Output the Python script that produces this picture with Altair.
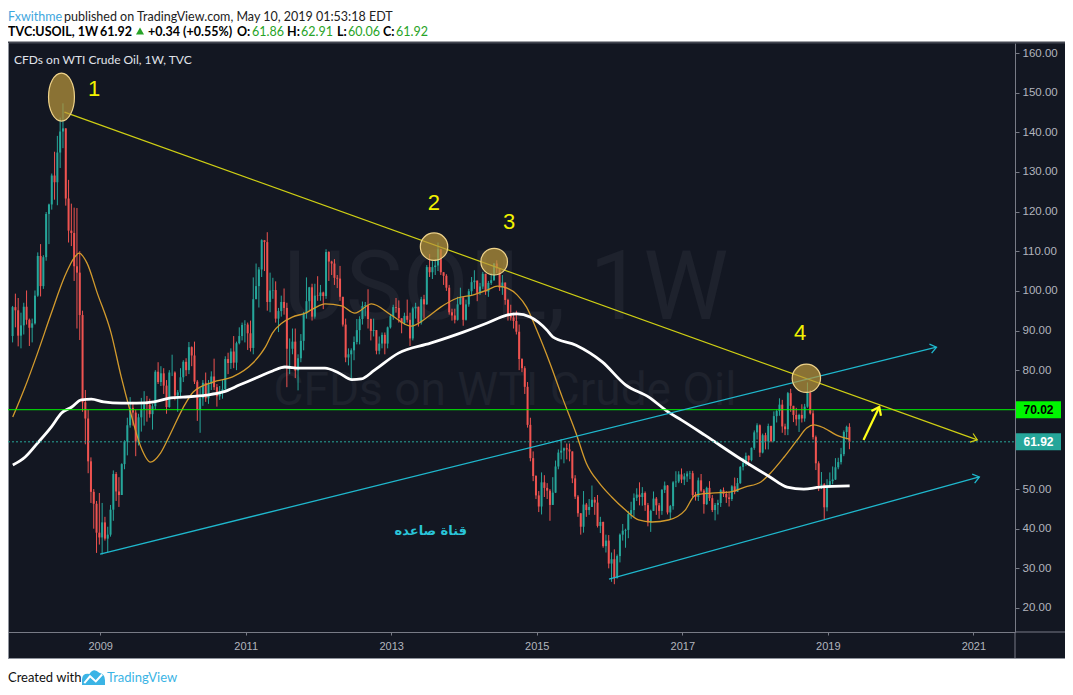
import math
import altair as alt
import pandas as pd

# ---------------- data ----------------
FIRST_OPEN = 88.6
START_BIN = {2007: 21}          # 26 two-week bins per year
# (high, low, close) per two-week candle
C2007 = [(96.2, 87.0, 95.9), (99.3, 90.8, 95.1), (98.2, 86.0, 88.7), (94.5, 85.5, 91.3), (97.0, 89.0, 96.0)]
C2008 = [(100.1, 91.5, 92.7), (93.0, 86.1, 90.7), (93.0, 87.0, 91.8), (100.1, 91.5, 98.8), (109.7, 98.5, 108.8),
         (111.8, 98.6, 101.2), (109.0, 100.5, 108.5), (119.9, 107.6, 119.4), (122.0, 111.8, 121.8), (129.6, 120.5, 129.1),
         (135.1, 123.0, 127.4), (139.1, 121.6, 134.9), (143.7, 131.0, 140.2), (147.3, 136.0, 141.0), (138.5, 121.5, 123.3),
         (128.0, 112.2, 115.2), (122.0, 111.3, 114.6), (121.0, 102.5, 106.2), (120.9, 90.5, 104.6), (110.0, 87.6, 93.9),
         (95.0, 69.5, 71.9), (75.0, 61.3, 67.8), (70.0, 54.0, 57.0), (58.0, 46.5, 49.3), (50.0, 40.0, 46.3), (47.0, 33.9, 39.0)]
C2009 = [(49.0, 36.0, 37.8), (46.5, 33.5, 41.6), (43.0, 37.0, 37.5), (40.5, 34.0, 38.5), (46.0, 38.0, 44.8),
         (54.7, 42.0, 53.8), (54.3, 47.0, 49.4), (53.0, 45.5, 48.5), (56.5, 48.5, 56.3), (62.3, 55.0, 62.0),
         (68.0, 58.5, 66.1), (73.2, 65.5, 70.5), (72.0, 66.0, 69.3), (70.0, 58.3, 62.0), (69.0, 61.0, 68.1),
         (73.0, 64.5, 70.2), (74.7, 66.0, 71.4), (73.5, 67.0, 71.3), (72.8, 68.0, 68.9), (71.5, 65.0, 70.9),
         (80.0, 70.0, 79.6), (82.0, 76.5, 77.0), (81.0, 76.0, 79.2), (80.5, 74.0, 76.1), (77.5, 69.0, 70.7), (80.0, 70.5, 79.4)]
C2010 = [(83.9, 78.5, 79.4), (79.7, 72.4, 73.6), (75.0, 69.5, 74.4), (80.5, 73.0, 78.2), (82.5, 77.0, 82.1),
         (83.0, 78.5, 80.0), (87.1, 79.0, 85.8), (86.0, 81.0, 83.7), (87.2, 76.5, 77.1), (77.5, 67.2, 70.0),
         (75.5, 64.2, 72.9), (77.5, 71.0, 76.8), (79.4, 72.0, 72.9), (77.5, 71.5, 76.5), (79.7, 75.0, 78.4),
         (82.9, 75.0, 75.7), (76.5, 70.8, 73.4), (76.0, 72.5, 74.7), (77.5, 72.8, 75.2), (83.5, 75.0, 82.8),
         (84.4, 79.0, 81.8), (85.5, 80.3, 84.7), (88.6, 80.5, 81.9), (87.2, 80.0, 86.8), (90.8, 86.5, 88.6), (92.0, 87.5, 91.4)]
C2011 = [(92.6, 87.0, 91.5), (92.0, 85.1, 89.3), (92.5, 84.7, 85.6), (103.4, 84.0, 97.9), (106.9, 98.0, 101.2),
         (106.0, 95.8, 105.4), (113.0, 103.5, 112.8), (112.8, 105.0, 112.3), (114.8, 95.0, 97.2), (104.6, 94.6, 100.1),
         (103.3, 98.0, 100.2), (102.4, 92.0, 93.0), (95.7, 89.6, 94.9), (98.8, 93.5, 97.2), (100.6, 94.0, 95.7),
         (97.0, 75.7, 85.4), (88.0, 79.0, 85.4), (90.5, 84.0, 87.2), (90.5, 78.0, 79.9), (84.0, 74.9, 83.0),
         (89.1, 82.0, 87.4), (94.7, 85.0, 94.3), (103.4, 93.0, 97.4), (101.0, 95.0, 100.9), (101.8, 92.5, 93.5), (101.8, 93.0, 98.8)]
C2012 = [(103.7, 97.5, 98.7), (101.5, 97.5, 99.6), (99.8, 95.4, 98.7), (110.5, 98.0, 109.8), (110.0, 102.5, 107.4),
         (107.6, 104.0, 106.9), (108.0, 101.5, 103.3), (104.0, 100.7, 103.1), (106.3, 97.5, 98.5), (98.5, 91.0, 91.5),
         (93.0, 82.0, 83.2), (85.5, 81.2, 84.0), (85.5, 77.3, 85.0), (88.5, 82.5, 87.1), (92.9, 86.5, 90.1),
         (93.6, 86.5, 92.9), (97.3, 91.5, 96.2), (97.2, 93.6, 96.4), (100.4, 90.5, 92.9), (93.0, 87.5, 89.9),
         (93.0, 88.5, 90.1), (89.0, 84.0, 84.9), (88.5, 84.0, 86.7), (89.5, 85.5, 88.9), (89.5, 84.0, 86.7), (91.0, 85.5, 90.8)]
C2013 = [(94.0, 90.5, 93.6), (96.5, 92.7, 95.9), (98.2, 94.5, 95.7), (97.6, 92.0, 93.1), (93.0, 89.3, 91.9),
         (94.5, 91.5, 93.7), (97.8, 92.0, 92.7), (94.5, 86.1, 88.0), (96.0, 87.5, 95.6), (97.0, 93.0, 96.0),
         (95.5, 91.0, 92.0), (98.5, 91.5, 97.9), (99.0, 93.0, 96.6), (106.5, 96.5, 106.0), (109.3, 103.5, 104.7),
         (107.5, 103.0, 106.0), (108.0, 104.0, 106.4), (112.2, 105.0, 110.5), (110.5, 104.0, 104.7), (104.5, 101.5, 103.8),
         (104.2, 100.0, 100.8), (101.5, 94.0, 94.6), (95.5, 92.5, 93.8), (95.5, 91.8, 92.7), (98.5, 92.5, 96.6), (100.8, 96.5, 98.4)]
C2014 = [(95.5, 91.2, 92.7), (97.8, 92.5, 96.6), (100.5, 96.0, 99.9), (103.5, 99.0, 102.2), (105.2, 100.5, 102.6),
         (102.5, 97.4, 99.5), (102.0, 99.0, 101.1), (104.8, 100.5, 104.3), (102.5, 99.0, 99.8), (102.5, 98.5, 102.0),
         (104.5, 101.5, 102.7), (107.0, 102.5, 106.9), (107.7, 104.5, 105.7), (105.0, 100.0, 100.8), (104.0, 99.0, 102.1),
         (102.0, 96.5, 97.7), (98.0, 92.5, 93.7), (96.5, 92.5, 93.3), (94.5, 90.5, 92.4), (95.0, 89.0, 89.7),
         (91.5, 80.0, 82.8), (83.0, 79.5, 80.5), (81.0, 74.0, 75.8), (77.0, 65.5, 66.2), (68.0, 57.0, 57.8), (59.5, 52.0, 53.3)]
C2015 = [(53.5, 47.5, 48.4), (49.5, 44.2, 45.6), (54.2, 43.6, 51.7), (53.5, 48.0, 50.3), (51.5, 47.5, 49.6),
         (50.0, 42.0, 46.0), (53.0, 46.5, 49.1), (57.2, 49.0, 55.7), (60.0, 55.0, 59.2), (62.6, 57.5, 59.7),
         (60.5, 56.5, 60.3), (61.5, 57.5, 60.0), (61.5, 57.0, 59.5), (57.5, 51.5, 52.7), (53.5, 47.5, 48.1),
         (48.5, 43.0, 43.9), (43.5, 38.5, 40.5), (49.5, 39.0, 46.1), (46.5, 43.0, 44.7), (47.5, 43.5, 45.5),
         (50.9, 45.5, 47.3), (48.0, 43.5, 46.6), (48.5, 40.3, 40.7), (43.0, 38.9, 41.7), (41.8, 35.2, 35.6), (38.5, 34.0, 37.0)]
C2016 = [(38.4, 30.0, 31.2), (34.0, 26.6, 32.3), (34.8, 26.0, 27.5), (33.5, 28.0, 33.1), (38.8, 31.5, 38.5),
         (41.2, 37.0, 39.5), (40.0, 35.2, 39.7), (44.5, 37.6, 43.7), (46.8, 42.5, 44.7), (48.9, 43.0, 47.8),
         (50.2, 47.0, 48.6), (51.7, 45.9, 48.0), (50.5, 45.8, 49.0), (49.4, 44.5, 45.95), (46.5, 40.6, 41.6),
         (44.8, 39.2, 44.5), (49.4, 45.5, 47.6), (48.0, 43.5, 45.9), (46.5, 42.5, 44.5), (50.0, 43.5, 49.8),
         (51.9, 49.0, 50.9), (51.0, 43.6, 44.1), (46.0, 42.2, 45.7), (52.0, 44.8, 51.7), (54.5, 50.5, 51.9), (54.5, 51.5, 53.7)]
C2017 = [(55.2, 51.5, 52.4), (54.0, 51.0, 53.2), (54.5, 51.8, 53.9), (54.6, 52.5, 54.0), (54.6, 48.0, 48.5),
         (49.3, 47.1, 48.0), (52.9, 47.0, 52.2), (53.8, 49.2, 49.6), (50.0, 43.8, 46.2), (50.6, 46.0, 50.3),
         (52.0, 47.0, 47.7), (48.5, 44.2, 44.7), (46.5, 42.1, 46.0), (47.3, 43.6, 46.5), (50.0, 45.5, 49.7),
         (50.4, 48.0, 48.8), (49.5, 46.5, 47.9), (49.3, 45.6, 47.5), (51.0, 47.0, 50.7), (52.9, 48.7, 49.3),
         (52.8, 49.5, 51.5), (55.8, 51.3, 55.6), (57.9, 54.7, 56.6), (59.2, 55.8, 58.4), (58.5, 55.8, 57.3), (60.5, 57.0, 60.4)]
C2018 = [(64.8, 59.9, 64.3), (66.6, 62.5, 66.1), (66.3, 58.1, 59.2), (64.0, 59.0, 63.6), (64.2, 60.0, 62.0),
         (66.5, 60.0, 65.9), (66.0, 61.8, 62.1), (69.6, 62.0, 68.4), (70.0, 66.8, 69.7), (72.9, 68.5, 71.3),
         (72.5, 64.2, 65.8), (66.5, 63.6, 65.1), (74.5, 63.6, 74.2), (75.3, 69.5, 71.0), (71.0, 66.9, 68.7),
         (70.5, 66.0, 67.6), (69.0, 64.4, 68.7), (71.4, 66.8, 67.8), (71.5, 67.0, 70.8), (76.9, 70.5, 74.3),
         (75.0, 68.8, 69.1), (69.9, 62.5, 63.1), (63.5, 54.8, 56.5), (57.0, 49.5, 50.9), (54.3, 50.0, 51.2), (51.5, 42.4, 45.4)]
C2019 = [(52.5, 44.4, 50.5), (54.2, 50.4, 52.0), (55.7, 51.2, 52.4), (57.8, 52.3, 55.5), (57.9, 55.0, 56.8),
         (60.4, 56.2, 58.8), (64.8, 58.3, 64.4), (66.0, 62.5, 65.7), (66.6, 60.06, 61.92)]
CANDLE_YEARS = [(2007, C2007), (2008, C2008), (2009, C2009), (2010, C2010), (2011, C2011), (2012, C2012),
                (2013, C2013), (2014, C2014), (2015, C2015), (2016, C2016), (2017, C2017), (2018, C2018),
                (2019, C2019)]

# moving averages (year, value)
MA200_T = [2007.80, 2007.97, 2008.14, 2008.33, 2008.47, 2008.61, 2008.74, 2008.88, 2009.05, 2009.29, 2009.50,
           2009.74, 2009.97, 2010.14, 2010.46, 2010.69, 2010.92, 2011.14, 2011.37, 2011.54, 2011.74, 2011.91,
           2012.09, 2012.28, 2012.46, 2012.59, 2012.77, 2013.10, 2013.54, 2013.99, 2014.32, 2014.59, 2014.73,
           2014.91, 2015.14, 2015.22, 2015.54, 2015.90, 2016.22, 2016.54, 2016.81, 2016.99, 2017.31, 2017.76,
           2018.21, 2018.44, 2018.67, 2018.89, 2019.30]
MA200_V = [56.1, 58.1, 61.6, 65.7, 69.2, 70.7, 72.5, 72.7, 72.0, 71.7, 71.7, 72.0, 73.0, 73.2, 73.7, 74.5, 76.3,
           78.0, 79.8, 80.8, 80.5, 80.5, 80.5, 79.3, 77.6, 77.8, 80.0, 84.3, 86.8, 89.6, 91.9, 93.9, 94.2, 93.4,
           90.1, 88.4, 86.3, 82.1, 76.3, 73.2, 69.4, 67.4, 63.6, 58.1, 53.0, 50.5, 50.0, 50.5, 50.8]
MA50_T = [2007.80, 2007.97, 2008.14, 2008.33, 2008.51, 2008.65, 2008.71, 2008.82, 2008.96, 2009.15, 2009.29,
          2009.42, 2009.56, 2009.69, 2009.83, 2009.97, 2010.14, 2010.28, 2010.55, 2010.82, 2011.10, 2011.27,
          2011.37, 2011.50, 2011.64, 2011.82, 2011.95, 2012.09, 2012.32, 2012.50, 2012.73, 2013.00, 2013.27,
          2013.50, 2013.68, 2013.91, 2014.13, 2014.32, 2014.46, 2014.54, 2014.73, 2014.86, 2015.00, 2015.18,
          2015.35, 2015.54, 2015.68, 2015.86, 2016.03, 2016.22, 2016.40, 2016.58, 2016.81, 2017.04, 2017.18,
          2017.40, 2017.67, 2017.86, 2018.08, 2018.21, 2018.40, 2018.58, 2018.71, 2018.81, 2018.95, 2019.12, 2019.30]
MA50_V = [68.2, 75.8, 84.3, 94.4, 103.5, 108.5, 109.5, 107.0, 99.5, 89.4, 78.3, 69.2, 60.6, 56.8, 59.1, 64.1, 70.5,
          74.5, 77.0, 78.3, 81.8, 85.8, 89.4, 91.9, 93.4, 94.4, 95.7, 96.7, 96.2, 94.4, 96.7, 93.9, 91.1, 93.4, 95.9,
          98.2, 99.0, 100.2, 101.2, 101.0, 99.0, 95.9, 90.1, 81.8, 73.2, 64.1, 56.6, 51.5, 48.0, 44.7, 42.2, 41.7,
          42.2, 44.7, 48.5, 49.0, 49.3, 50.5, 51.8, 54.0, 58.1, 62.4, 65.4, 66.2, 65.4, 63.6, 62.6]

# drawings
YELLOW_T, YELLOW_V = [2008.51, 2021.054], [145.1, 62.4]
CYAN_UP_T, CYAN_UP_V = [2009.0, 2020.493], [33.6, 85.8]
CYAN_LO_T, CYAN_LO_V = [2015.993, 2021.082], [27.3, 53.05]
ARROW_T, ARROW_V = [2019.49, 2019.707], [62.4, 70.7]
CIRCLE_T = [2013.589, 2014.415, 2018.705]
CIRCLE_V = [111.15, 107.36, 77.95]
CIRCLE_R = [15.5, 15.0, 16.0]
ELLIPSE_T, ELLIPSE_V = 2008.469, 148.9
NUM_LABELS = ["1", "2", "3", "4"]
NUM_T = [2008.918, 2013.585, 2014.619, 2018.619]
NUM_V = [150.9, 122.2, 117.4, 89.4]
LEVEL = 70.02
LAST = 61.92
Y_TICKS = [20, 30, 40, 50, 80, 90, 100, 110, 120, 130, 140, 150, 160]
X_TICKS = [2009, 2011, 2013, 2015, 2017, 2019, 2021]

# ---------------- geometry ----------------
W, H = 1007, 589
X0, X1 = 2007.8027, 2021.5034
Y0, Y1 = 13.945, 162.53
PX = W / (X1 - X0)
PY = H / (Y1 - Y0)

rows = []
prev = FIRST_OPEN
for yr, lst in CANDLE_YEARS:
    b0 = START_BIN.get(yr, 0)
    for k, (h, l, c) in enumerate(lst):
        o = prev
        rows.append({"t": yr + (b0 + k + 0.5) / 26 - 0.03, "o": o, "c": c,
                     "h": max(h, o, c), "l": min(l, o, c), "dir": "up" if c >= o else "down"})
        prev = c
candles = pd.DataFrame(rows)

AXC = "#787b86"
LBL = "#b2b5be"
UPC, DNC = "#26a69a", "#ef5350"
XS = alt.Scale(domain=[X0, X1], nice=False, zero=False)
YS = alt.Scale(domain=[Y0, Y1], nice=False, zero=False)
XAX = alt.Axis(values=X_TICKS, format="d", title=None, grid=False, labelColor=LBL,
               labelFontSize=11, labelFont="Liberation Sans", domainColor=AXC, tickColor=AXC,
               tickSize=3, labelPadding=5, labelFlush=False)
YAX = alt.Axis(orient="right", values=Y_TICKS, format=".2f", title=None, grid=False,
               labelColor=LBL, labelFontSize=11.5, labelFont="Liberation Sans",
               domainColor=AXC, tickColor=AXC, tickSize=4, labelPadding=3)


def X(f):
    return alt.X(f, type="quantitative", scale=XS, axis=XAX)


def Y(f):
    return alt.Y(f, type="quantitative", scale=YS, axis=YAX)


ONE = pd.DataFrame({"a": [0]})


def ptext(txt, x, y, **kw):
    return alt.Chart(ONE).mark_text(text=txt, **kw).encode(x=alt.value(x), y=alt.value(y))


def prule(color, x, y, x2=None, y2=None, w=1, **kw):
    enc = {"x": alt.value(x), "y": alt.value(y)}
    if x2 is not None:
        enc["x2"] = alt.value(x2)
    if y2 is not None:
        enc["y2"] = alt.value(y2)
    return alt.Chart(ONE).mark_rule(color=color, strokeWidth=w, **kw).encode(**enc)


layers = []

# candles (they carry the axes)
col = alt.Color("dir:N", scale=alt.Scale(domain=["up", "down"], range=[UPC, DNC]), legend=None)
wick = alt.Chart(candles).mark_rule(strokeWidth=1).encode(x=X("t"), y=Y("l"), y2="h", color=col)
body = alt.Chart(candles).mark_bar(size=2).encode(x=X("t"), y=Y("o"), y2="c", color=col)

# white header / footer strips around the dark panel
layers.append(alt.Chart(ONE).mark_rect(color="white").encode(
    x=alt.value(0), x2=alt.value(1057), y=alt.value(-35), y2=alt.value(-1)))
layers.append(alt.Chart(ONE).mark_rect(color="white").encode(
    x=alt.value(0), x2=alt.value(1057), y=alt.value(616), y2=alt.value(644)))
layers.append(prule("#434651", 0, -0.5, x2=1057, w=2))
layers.append(prule("#8f939c", 0, 615.5, x2=1057))
layers.append(prule("#8f939c", 0.5, 0, y2=616))
layers.append(prule(AXC, W, H, y2=615))
layers.append(prule(AXC, W, H, x2=1057))

# watermark
layers.append(ptext("USOIL, 1W", 498, 247, font="Roboto", fontSize=96, color="#1e222d",
                    align="center", baseline="middle"))
layers.append(ptext("CFDs on WTI Crude Oil", 497, 348, font="Roboto", fontSize=46, color="#1e222d",
                    align="center", baseline="middle"))

layers += [wick, body]

# moving averages
ma200 = pd.DataFrame({"t": MA200_T, "v": MA200_V})
ma50 = pd.DataFrame({"t": MA50_T, "v": MA50_V})
layers.append(alt.Chart(ma50).mark_line(color="#d39b2d", strokeWidth=1.3, interpolate="monotone").encode(
    x=X("t"), y=Y("v")))
layers.append(alt.Chart(ma200).mark_line(color="#ffffff", strokeWidth=2.8, interpolate="monotone").encode(
    x=X("t"), y=Y("v")))

# horizontal levels
layers.append(alt.Chart(pd.DataFrame({"v": [LEVEL]})).mark_rule(color="#00f500", strokeWidth=1).encode(
    y=Y("v"), x=alt.value(0), x2=alt.value(W)))
layers.append(alt.Chart(pd.DataFrame({"v": [LAST]})).mark_rule(color=UPC, strokeWidth=1, strokeDash=[2, 2]).encode(
    y=Y("v"), x=alt.value(0), x2=alt.value(W)))

# trend lines
LINES = [(YELLOW_T, YELLOW_V, "#cfcf14", 1.2, 150), (CYAN_UP_T, CYAN_UP_V, "#1fb8cd", 1.3, 150),
         (CYAN_LO_T, CYAN_LO_V, "#1fb8cd", 1.3, 150), (ARROW_T, ARROW_V, "#ffff1a", 2.2, 200)]
heads = []
for tt, vv, color, w, s in LINES:
    layers.append(alt.Chart(pd.DataFrame({"t": tt, "v": vv})).mark_line(color=color, strokeWidth=w).encode(
        x=X("t"), y=Y("v")))
    ang = math.degrees(math.atan2(-(vv[1] - vv[0]) * PY, (tt[1] - tt[0]) * PX)) % 360
    heads.append({"t": tt[1], "v": vv[1], "ang": ang, "c": color, "w": w, "s": s})
layers.append(alt.Chart(pd.DataFrame(heads)).mark_point(
    shape="M -1 -0.75 L 0 0 L -1 0.75", filled=False, opacity=1).encode(
    x=X("t"), y=Y("v"), angle=alt.Angle("ang:Q", scale=None), stroke=alt.Stroke("c:N", scale=None),
    strokeWidth=alt.StrokeWidth("w:Q", scale=None), size=alt.Size("s:Q", scale=None)))

# highlighted swing highs
circ = pd.DataFrame({"t": CIRCLE_T, "v": CIRCLE_V, "s": [math.pi * r * r for r in CIRCLE_R]})
layers.append(alt.Chart(circ).mark_point(shape="circle", filled=True, fill="#b8963c", fillOpacity=0.72,
                                         stroke="#efd38a", strokeWidth=1.2, opacity=1).encode(
    x=X("t"), y=Y("v"), size=alt.Size("s:Q", scale=None)))
layers.append(alt.Chart(pd.DataFrame({"t": [ELLIPSE_T], "v": [ELLIPSE_V]})).mark_point(
    shape="M -0.54 0 A 0.54 1 0 1 1 0.54 0 A 0.54 1 0 1 1 -0.54 0 Z", filled=True, fill="#b8963c",
    fillOpacity=0.72, stroke="#efd38a", strokeWidth=1.2, opacity=1, size=2304).encode(x=X("t"), y=Y("v")))

layers.append(alt.Chart(pd.DataFrame({"t": NUM_T, "v": NUM_V, "n": NUM_LABELS})).mark_text(
    font="Liberation Sans", fontSize=22, color="#f2f200", align="center", baseline="middle").encode(
    x=X("t"), y=Y("v"), text="n:N"))
layers.append(alt.Chart(pd.DataFrame({"t": [2013.544], "v": [39.4], "s": ["قناة صاعده"]})).mark_text(
    font="DejaVu Sans", fontSize=13, fontWeight="bold", color="#2ac4d8", align="center",
    baseline="middle").encode(x=X("t"), y=Y("v"), text="s:N"))

# price tags on the axis
tags = pd.DataFrame({"v": [LEVEL, LAST], "lo": [LEVEL - 2.15, LAST - 2.15], "hi": [LEVEL + 2.15, LAST + 2.15],
                     "fill": ["#00f500", UPC], "txt": ["70.02", "61.92"], "tc": ["#000000", "#ffffff"]})
layers.append(alt.Chart(tags).mark_rect().encode(
    x=alt.value(1008), x2=alt.value(1053), y=Y("lo"), y2="hi", fill=alt.Fill("fill:N", scale=None)))
layers.append(alt.Chart(tags).mark_text(font="Liberation Sans", fontSize=12, fontWeight="bold",
                                        align="center", baseline="middle").encode(
    x=alt.value(1030.5), y=Y("v"), text="txt:N", color=alt.Color("tc:N", scale=None)))

# panel title
layers.append(ptext("CFDs on WTI Crude Oil, 1W, TVC", 6, 17, font="Lato", fontSize=12, color="#e0e3eb",
                    align="left", baseline="middle"))

# header
HB = "#000000"
GRN = "#27a327"
layers.append(ptext("Fxwithme", 0, -22.5, font="Lato", fontSize=12.5, color="#3fa7de", align="left",
                    baseline="alphabetic"))
layers.append(ptext("published on TradingView.com, May 10, 2019 01:53:18 EDT", 56, -22.5, font="Lato",
                    fontSize=12.5, color="#222222", align="left", baseline="alphabetic"))
for txt, x, color, wt in [("TVC:USOIL, 1W", 0, HB, "bold"), ("61.92", 92, HB, "bold"),
                          ("+0.34 (+0.55%)", 140, HB, "bold"), ("O:", 229, HB, "bold"), ("61.86", 244, GRN, "normal"),
                          ("H:", 279, HB, "bold"), ("62.91", 293, GRN, "normal"), ("L:", 329, HB, "bold"),
                          ("60.06", 340, GRN, "normal"), ("C:", 375, HB, "bold"), ("61.92", 388, GRN, "normal")]:
    layers.append(ptext(txt, x, -7.5, font="Lato", fontSize=12.5, color=color, fontWeight=wt,
                        align="left", baseline="alphabetic"))
layers.append(alt.Chart(ONE).mark_point(shape="triangle-up", filled=True, color=GRN, opacity=1, size=65).encode(
    x=alt.value(132), y=alt.value(-12)))

# footer
layers.append(ptext("Created with", 0, 635, font="Lato", fontSize=13, color="#111111", align="left",
                    baseline="middle"))
layers.append(alt.Chart(ONE).mark_point(
    shape="M -1 0.6 L -1 0.1 Q -0.95 -0.45 -0.35 -0.35 Q 0 -0.95 0.5 -0.45 Q 1 -0.35 1 0.2 L 1 0.6 Z",
    filled=True, color="#3bb4e5", opacity=1, size=529).encode(x=alt.value(85.5), y=alt.value(635)))
layers.append(alt.Chart(ONE).mark_point(shape="M -0.8 0.45 L -0.3 -0.15 L 0.2 0.3 L 0.75 -0.3", filled=False,
                                        color="#ffffff", strokeWidth=2, opacity=1, size=529).encode(
    x=alt.value(85.5), y=alt.value(635)))
layers.append(ptext("TradingView", 99, 635, font="Lato", fontSize=13, color="#3bb4e5", align="left",
                    baseline="middle"))

chart = alt.layer(*layers).properties(
    width=W, height=H,
    padding={"left": 0, "top": 35, "right": 50, "bottom": 55},
    autosize=alt.AutoSizeParams(type="none"),
    background="#131722",
).configure_view(strokeWidth=0)

chart.save("out.html", embed_options={"renderer": "svg", "actions": False})
